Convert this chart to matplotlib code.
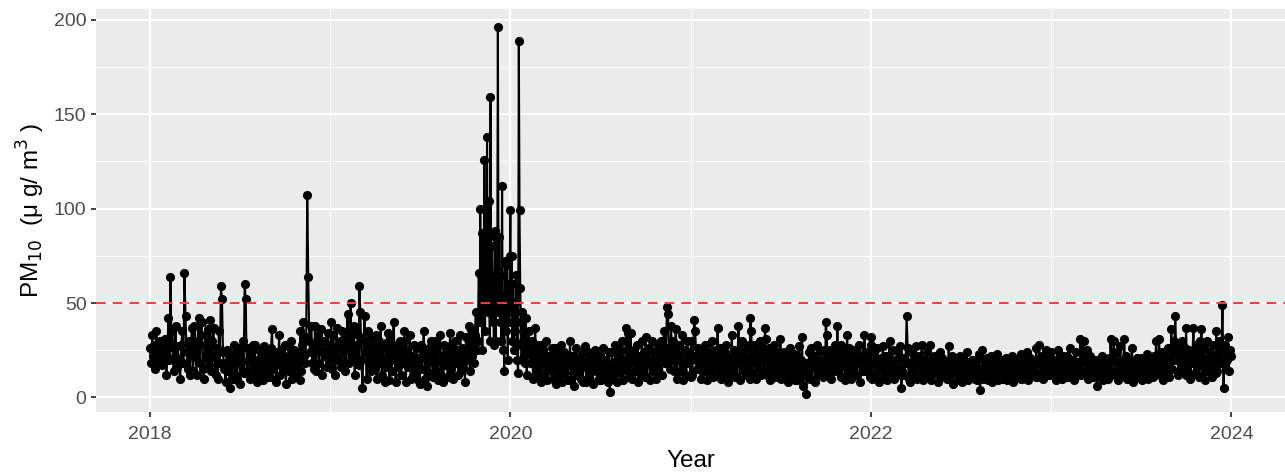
import matplotlib
matplotlib.use("Agg")
import matplotlib.pyplot as plt
import matplotlib.dates as mdates
from matplotlib.ticker import MultipleLocator
import pandas as pd

plt.rcParams['font.family'] = ['Liberation Sans', 'DejaVu Sans']

# PM10 readings, one list per month
pm_2018 = [
    [26, 18, 33, 22, 28, 15, 35, 19, 24, 30, 20, 17, 27, 22, 31],
    [30, 12, 25, 42, 20, 64, 28, 36, 14, 22, 38, 16, 27, 19],
    [20, 10, 28, 35, 18, 66, 43, 24, 15, 30, 12, 25, 37, 14, 22],
    [38, 25, 12, 30, 42, 18, 33, 40, 15, 10, 28, 33, 21, 36, 17],
    [20, 41, 14, 30, 37, 22, 12, 26, 10, 35, 18, 59, 52, 24, 15],
    [18, 8, 25, 14, 20, 5, 22, 10, 17, 28, 12, 24, 9, 19, 26],
    [24, 7, 18, 30, 13, 60, 52, 14, 26, 20, 10, 22, 15, 28, 11],
    [28, 15, 8, 20, 25, 12, 18, 22, 9, 27, 14, 19, 11, 24, 16],
    [11, 26, 36, 15, 20, 24, 8, 18, 20, 33, 12, 25, 16, 22, 14],
    [28, 7, 18, 22, 14, 26, 30, 10, 20, 25, 16, 12, 24, 19, 9],
    [35, 14, 28, 40, 22, 18, 32, 107, 64, 30, 24, 38, 18, 27, 15],
    [38, 14, 26, 33, 18, 30, 36, 12, 24, 30, 22, 16, 34, 20, 28],
]
pm_2019 = [
    [25, 40, 15, 33, 22, 12, 37, 20, 28, 30, 16, 35, 24, 18, 31],
    [14, 30, 44, 18, 26, 50, 22, 35, 38, 12, 28, 20, 33, 17],
    [59, 45, 20, 5, 30, 43, 24, 10, 35, 18, 28, 14, 32, 22, 26],
    [15, 33, 10, 24, 30, 18, 38, 12, 26, 20, 8, 29, 16, 34, 22],
    [9, 32, 14, 25, 40, 20, 8, 28, 16, 22, 30, 12, 26, 18, 35],
    [30, 8, 25, 16, 20, 33, 10, 22, 12, 28, 18, 14, 26, 9, 21],
    [7, 28, 15, 22, 35, 10, 24, 6, 18, 26, 13, 30, 20, 11, 25],
    [30, 14, 26, 9, 20, 33, 12, 22, 8, 28, 17, 24, 11, 19, 27],
    [34, 15, 28, 10, 22, 30, 18, 25, 12, 20, 33, 14, 26, 16, 23],
    [8, 32, 20, 26, 38, 14, 36, 22, 30, 18, 33, 45, 25, 30, 66, 40],
    [100, 40, 87, 25, 55, 60, 126, 35, 70, 48, 138, 45, 88, 104, 30, 159,
     55, 80, 40, 65, 28, 85],
    [88, 30, 60, 45, 196, 50, 85, 40, 65, 30, 112, 25, 48, 14, 72, 35,
     55, 70, 20, 60, 40, 75],
]
pm_2020 = [
    [99, 45, 75, 30, 60, 25, 50, 35, 65, 28, 20, 13, 189, 99, 58, 40,
     20, 45, 30, 22, 42, 18],
    [42, 12, 30, 35, 18, 25, 30, 10, 22, 37, 15, 28, 12, 20],
    [28, 8, 18, 25, 12, 22, 30, 9, 16, 22, 14, 26, 10, 19, 24],
    [26, 7, 15, 20, 11, 24, 28, 8, 18, 24, 13, 21, 9, 17, 22],
    [30, 9, 18, 22, 6, 14, 26, 12, 20, 15, 10, 23, 8, 19, 25],
    [27, 8, 16, 24, 11, 20, 21, 7, 15, 25, 14, 22, 9, 18, 12],
    [22, 9, 18, 26, 12, 20, 16, 8, 24, 3, 14, 24, 10, 19, 13],
    [28, 8, 17, 22, 13, 25, 30, 9, 20, 15, 37, 14, 34, 11, 22],
    [34, 10, 20, 25, 14, 22, 28, 8, 18, 22, 12, 30, 15, 24, 11],
    [32, 11, 20, 26, 9, 18, 30, 14, 24, 22, 10, 16, 28, 13, 20],
    [30, 12, 24, 35, 18, 26, 48, 44, 22, 15, 38, 20, 30, 14, 26],
    [36, 10, 22, 28, 14, 20, 33, 9, 18, 25, 12, 30, 18, 24, 11],
]
pm_2021 = [
    [30, 12, 22, 41, 35, 20, 15, 26, 18, 10, 24, 22, 14, 28, 16],
    [28, 9, 20, 24, 14, 22, 30, 11, 18, 25, 15, 37, 20, 13],
    [26, 10, 18, 22, 13, 24, 28, 8, 16, 21, 12, 33, 16, 25, 11],
    [24, 11, 20, 38, 9, 18, 30, 14, 22, 26, 12, 19, 15, 28, 10],
    [42, 35, 13, 22, 28, 10, 18, 24, 15, 30, 12, 20, 26, 14, 37],
    [31, 12, 20, 26, 9, 17, 22, 14, 28, 11, 19, 24, 13, 21, 16],
    [31, 10, 18, 24, 13, 20, 16, 8, 22, 26, 11, 19, 14, 23, 9],
    [22, 9, 16, 27, 12, 20, 32, 6, 14, 18, 2, 12, 18, 24, 10],
    [26, 10, 18, 22, 8, 16, 28, 12, 20, 24, 14, 19, 11, 25, 15],
    [40, 33, 12, 20, 25, 10, 18, 22, 14, 28, 16, 38, 14, 24, 11],
    [28, 11, 18, 24, 9, 20, 33, 13, 26, 16, 10, 22, 15, 25, 12],
    [25, 12, 20, 28, 8, 18, 22, 14, 33, 24, 14, 19, 24, 11, 32],
]
pm_2022 = [
    [28, 10, 18, 24, 12, 20, 26, 8, 16, 21, 14, 27, 11, 19, 22],
    [22, 9, 16, 30, 13, 20, 25, 10, 18, 20, 12, 24, 15, 21],
    [27, 5, 14, 21, 12, 18, 43, 26, 10, 8, 19, 15, 23, 11, 20],
    [27, 10, 18, 22, 12, 20, 28, 9, 16, 20, 11, 24, 13, 19, 15],
    [28, 9, 16, 22, 13, 18, 20, 8, 15, 24, 11, 21, 14, 19, 12],
    [19, 10, 15, 27, 12, 20, 22, 7, 14, 18, 13, 21, 9, 17, 15],
    [22, 8, 15, 20, 12, 17, 24, 9, 14, 18, 11, 20, 13, 16, 10],
    [20, 9, 14, 23, 4, 12, 25, 10, 16, 19, 12, 21, 9, 17, 13],
    [22, 8, 14, 20, 11, 17, 23, 9, 15, 18, 12, 20, 10, 16, 13],
    [21, 9, 15, 19, 12, 17, 22, 8, 14, 20, 11, 18, 13, 16, 10],
    [23, 10, 16, 20, 13, 18, 24, 9, 15, 21, 12, 19, 14, 17, 11],
    [26, 11, 18, 28, 13, 20, 22, 10, 16, 25, 14, 21, 12, 24, 15],
]
pm_2023 = [
    [24, 12, 18, 20, 9, 16, 25, 13, 19, 18, 10, 22, 14, 17, 11],
    [22, 11, 17, 26, 14, 20, 20, 9, 15, 24, 12, 19, 13, 18],
    [31, 12, 22, 30, 14, 20, 25, 10, 17, 22, 13, 20, 11, 18, 15],
    [20, 6, 14, 18, 11, 16, 22, 9, 15, 19, 12, 17, 10, 21, 13],
    [31, 14, 22, 30, 12, 19, 24, 9, 16, 27, 13, 20, 15, 31, 12],
    [22, 10, 16, 20, 13, 18, 26, 8, 15, 19, 12, 21, 11, 17, 14],
    [21, 9, 15, 18, 12, 17, 23, 10, 16, 20, 13, 19, 11, 22, 14],
    [30, 14, 20, 31, 12, 18, 24, 9, 16, 22, 13, 26, 11, 19, 15],
    [36, 15, 24, 30, 43, 20, 28, 12, 22, 24, 14, 30, 16, 26, 12],
    [37, 14, 22, 25, 10, 18, 22, 37, 13, 28, 16, 24, 11, 30, 18],
    [36, 12, 20, 26, 9, 18, 30, 14, 24, 20, 11, 28, 15, 22, 13],
    [35, 14, 22, 30, 18, 26, 49, 5, 28, 15, 20, 32, 14, 25, 22],
]
years = [2018, 2019, 2020, 2021, 2022, 2023]
limit_value = 50
x_ticks_years = [2018, 2020, 2022, 2024]
y_ticks = [0, 50, 100, 150, 200]

# Build date / value series (each month's readings spread across that month)
all_dates, all_vals = [], []
for yr, months in zip(years, [pm_2018, pm_2019, pm_2020, pm_2021, pm_2022, pm_2023]):
    for m, vals in enumerate(months, start=1):
        start = pd.Timestamp(yr, m, 1)
        end = start + pd.offsets.MonthEnd(0)
        d = pd.date_range(start, end, periods=len(vals))
        all_dates.extend(d)
        all_vals.extend(vals)
df = pd.DataFrame({"date": all_dates, "pm10": all_vals})

fig = plt.figure(figsize=(12.85, 4.75), dpi=100)
ax = fig.add_axes([96 / 1285, 1 - 412 / 475, 1 - 96 / 1285, (412 - 9) / 475])
ax.set_facecolor("#EBEBEB")
for s in ax.spines.values():
    s.set_visible(False)

ax.plot(df["date"], df["pm10"], color="black", lw=1.5, marker="o",
        markersize=6.6, markeredgewidth=0, zorder=3)
ax.axhline(limit_value, color="#F03E3A", lw=1.4, dashes=(5, 3.6), zorder=4)

ax.margins(x=0.05, y=0.05)

ax.set_xticks([mdates.date2num(pd.Timestamp(y, 1, 1)) for y in x_ticks_years])
ax.set_xticklabels([str(y) for y in x_ticks_years])
ax.xaxis.set_minor_locator(mdates.YearLocator(1))
ax.set_yticks(y_ticks)
ax.yaxis.set_minor_locator(MultipleLocator(25))

ax.grid(which="major", color="white", lw=1.5, zorder=0)
ax.grid(which="minor", color="white", lw=0.75, zorder=0)
ax.set_axisbelow(True)

ax.tick_params(which="major", length=3.8, width=1.3, color="#333333",
               labelsize=14, labelcolor="#4D4D4D", pad=3)
ax.tick_params(axis="x", which="major", pad=6)
ax.tick_params(which="minor", length=0)

ax.set_xlabel("Year", fontsize=17.5, color="black", labelpad=5)
ax.set_ylabel("PM$_{10}$  (μ g/ m$^{3}$ )", fontsize=17.5, color="black", labelpad=5)

fig.savefig("out.png", dpi=100)
